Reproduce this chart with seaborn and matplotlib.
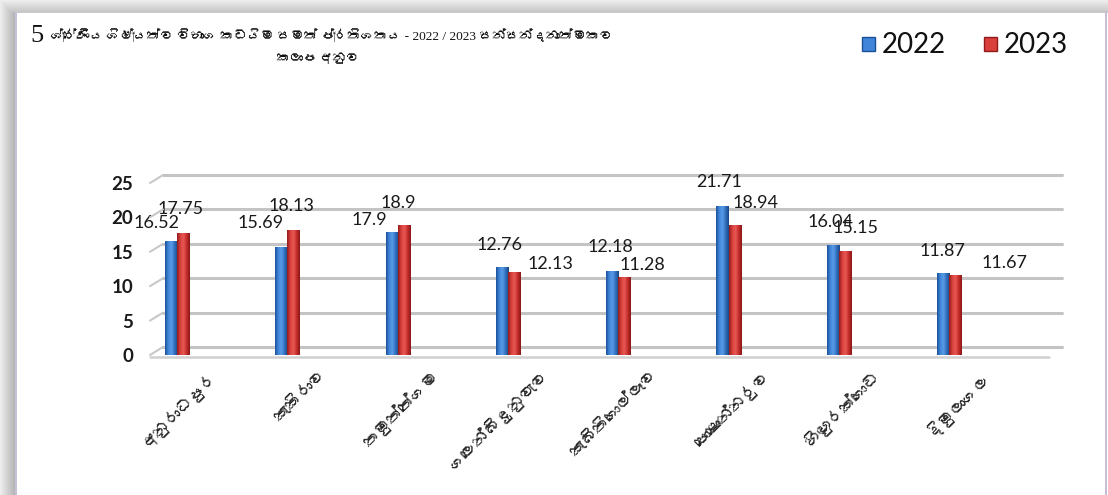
import numpy as np
import pandas as pd
import matplotlib
matplotlib.use("Agg")
import matplotlib.pyplot as plt
import seaborn as sns
from matplotlib import font_manager, ft2font
from matplotlib.colors import LinearSegmentedColormap
from matplotlib.patches import Rectangle
import matplotlib.transforms as mtransforms

# ---------------- data ----------------
zones = ["අනුරාධපුර", "කැකිරාව", "තඹුත්තේගම", "ගලෙන්බිඳුනුවැව",
         "කැබිතිගොල්ලෑව", "පොළොන්නරුව", "හිඟුරක්ගොඩ", "දිඹුලාගල"]
years = ["2022", "2023"]
values_2022 = [16.52, 15.69, 17.9, 12.76, 12.18, 21.71, 16.04, 11.87]
values_2023 = [17.75, 18.13, 18.9, 12.13, 11.28, 18.94, 15.15, 11.67]
label_2022 = ["16.52", "15.69", "17.9", "12.76", "12.18", "21.71", "16.04", "11.87"]
label_2023 = ["17.75", "18.13", "18.9", "12.13", "11.28", "18.94", "15.15", "11.67"]
y_ticks = [0, 5, 10, 15, 20, 25]
title_num = "5"
title_line1 = "ශ්‍රේණිය ශිෂ්‍යත්ව විභාග කඩයිම සමත් ප්‍රතිශතය - 2022 / 2023 සන්සන්දනාත්මකව"
title_line2 = "කලාප අනුව"

# label offsets (pixels) relative to bar tops -- styling only
off_2022 = [(-14, 18), (-21, 24), (-22, 12), (-2, 22), (-2, 24), (-3, 24), (-2, 23), (-1, 22)]
off_2023 = [(-3, 24), (-2, 24), (-5, 22), (36, 8), (18, 12), (21, 22), (11, 23), (49, 12)]

df = pd.DataFrame({
    "zone": zones * 2,
    "year": [years[0]] * len(zones) + [years[1]] * len(zones),
    "value": values_2022 + values_2023,
})

# ---------------- fonts ----------------
sin_font = None
for f in font_manager.fontManager.ttflist:
    try:
        ft = ft2font.FT2Font(f.fname)
        if ft.get_char_index(0x0D85) and ft.get_char_index(0x0DC3):
            sin_font = f.name
            break
    except Exception:
        pass

sns.set_theme(style="white")
fams = ["Lato", "DejaVu Sans"]
if sin_font:
    fams = ["Lato", sin_font, "DejaVu Sans"]
plt.rcParams["font.family"] = fams
sin_fams = ([sin_font] if sin_font else []) + ["DejaVu Sans"]
title_fams = ["Liberation Serif"] + sin_fams

W, H = 1108, 495
fig = plt.figure(figsize=(W / 100, H / 100), dpi=100)
fig.patch.set_facecolor("white")

# ---------------- frame (background) ----------------
bg = fig.add_axes([0, 0, 1, 1], zorder=-5)
bg.set_xlim(0, W)
bg.set_ylim(H, 0)
bg.axis("off")
for i in range(15):
    g = 0.93 - 0.22 * i / 14
    bg.add_patch(Rectangle((i, 0), 1, H, color=(g, g, g), lw=0))
for i in range(12):
    g = 0.93 - 0.15 * i / 11
    bg.add_patch(Rectangle((i, i), W - i, 1, color=(g, g, g), lw=0))
bg.add_patch(Rectangle((15, 12), 1.5, H, color="#c7bfd8", lw=0))
bg.add_patch(Rectangle((15, 12), W - 15, 1, color="#c9c9c9", lw=0))
bg.add_patch(Rectangle((1104.5, 12), 2, H, color="#c7bfd8", lw=0))

# ---------------- main axes ----------------
AX_L, AX_R = 150, 1049
ax = fig.add_axes([AX_L / W, 1 - 355 / H, (AX_R - AX_L) / W, (355 - 183) / H])
blue, red = "#2f72c4", "#cf2f2e"
sns.barplot(data=df, x="zone", y="value", hue="year", palette=[blue, red],
            width=0.22, saturation=1, ax=ax, legend=False, edgecolor="none")
XL = (-0.245, 7.905)
ax.set_xlim(*XL)
ax.set_ylim(0, 25)
ax.set_facecolor("none")
for s in ax.spines.values():
    s.set_visible(False)
ax.set_xlabel("")
ax.set_ylabel("")
ax.set_yticks(y_ticks)
ax.set_yticklabels([str(t) for t in y_ticks], fontsize=13.5, color="#1a1a1a",
                   fontweight="bold")
ax.tick_params(axis="y", length=0, pad=12)
ax.tick_params(axis="x", length=0)

# gridlines (back plane, shifted like 3D)
back = mtransforms.ScaledTranslation(13 / 100, 8 / 100, fig.dpi_scale_trans)
for t in y_ticks:
    ax.plot([0, 1], [t, t], transform=ax.get_yaxis_transform() + back,
            color="#c4c4c4", lw=2.2, zorder=0, clip_on=False, solid_capstyle="round")
    x0 = ax.transAxes.transform((0, 0))[0]
    y0 = ax.transData.transform((0, t))[1]
    fig.add_artist(plt.Line2D([x0 / W, (x0 + 13) / W], [y0 / H, (y0 + 8) / H],
                              color="#c8c8c8", lw=1.5, transform=fig.transFigure))
# front floor edge
ax.plot([0, 1], [0, 0], transform=ax.get_yaxis_transform()
        + mtransforms.ScaledTranslation(0, -2 / 100, fig.dpi_scale_trans),
        color="#d0d0d0", lw=1.8, zorder=0, clip_on=False)

# cylinder-like shading
cmap_b = LinearSegmentedColormap.from_list("b", ["#1b4f95", "#3f86db", "#5a9be6", "#2f6fbe", "#1a4587"])
cmap_r = LinearSegmentedColormap.from_list("r", ["#8f1b1b", "#d9403c", "#e85a55", "#c52d2b", "#861717"])
grad = np.linspace(0, 1, 64).reshape(1, -1)
for cont, cmap in zip(ax.containers, [cmap_b, cmap_r]):
    for p in cont.patches:
        x, w, h = p.get_x(), p.get_width(), p.get_height()
        im = ax.imshow(grad, extent=[x, x + w, 0, h], cmap=cmap, aspect="auto",
                       zorder=p.get_zorder() + 0.1, interpolation="bicubic")
        im.set_clip_path(p)
ax.set_xlim(*XL)
ax.set_ylim(0, 25)

# data labels
for cont, labs, offs in zip(ax.containers, [label_2022, label_2023], [off_2022, off_2023]):
    for p, lab, (dx, dy) in zip(cont.patches, labs, offs):
        ax.annotate(lab, xy=(p.get_x() + p.get_width() / 2, p.get_height()),
                    xytext=(dx * 0.72, dy * 0.72), textcoords="offset points",
                    ha="center", va="center", fontsize=13, color="#1a1a1a",
                    annotation_clip=False, zorder=5)

# x tick labels
ax.set_xticks(range(len(zones)))
shift = mtransforms.ScaledTranslation(32 / 100, -8 / 100, fig.dpi_scale_trans)
ax.set_xticklabels(zones, rotation=45, ha="right", va="top", rotation_mode="anchor",
                   fontsize=12, family=sin_fams)
for lbl in ax.get_xticklabels():
    lbl.set_transform(lbl.get_transform() + shift)

# legend
for i, (yr, c, cm) in enumerate(zip(years, [blue, red], [cmap_b, cmap_r])):
    x0 = 862 + i * 122
    fig.add_artist(Rectangle((x0 / W, 1 - 51 / H), 13 / W, 14 / H, transform=fig.transFigure,
                             facecolor=cm(0.25), edgecolor=cm(0.0), lw=1))
    fig.text((x0 + 20) / W, 1 - 45 / H, yr, fontsize=20, color="#111111",
             ha="left", va="center")

# title
fig.text(30 / W, 1 - 36 / H, title_num, fontsize=19, family=title_fams, ha="left",
         va="center", color="#111111")
t1 = fig.text(50 / W, 1 - 36 / H, title_line1, fontsize=12.5, family=title_fams,
              ha="left", va="center", color="#111111")
t2 = fig.text(318 / W, 1 - 59 / H, title_line2, fontsize=12.5, family=title_fams,
              ha="center", va="center", color="#111111")
renderer = fig.canvas.get_renderer()
wpx = t1.get_window_extent(renderer).width
if wpx > 562:
    fs = 12.5 * 562 / wpx
    t1.set_fontsize(fs)
    t2.set_fontsize(fs)

fig.savefig("out.png", dpi=100, facecolor="white")
